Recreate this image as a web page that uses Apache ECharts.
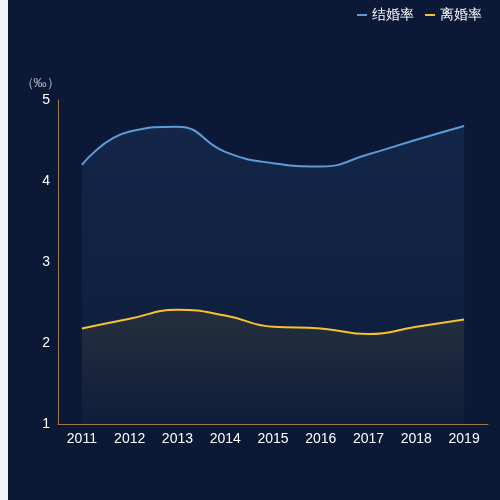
<!DOCTYPE html>
<html>
<head>
<meta charset="utf-8">
<script src="https://cdn.jsdelivr.net/npm/echarts@6/dist/echarts.min.js"></script>
<style>
html,body{margin:0;padding:0;background:#f2f3f8;width:500px;height:500px;overflow:hidden;}
#main{position:absolute;left:8px;top:0;width:492px;height:500px;background:#0b1937;}
</style>
</head>
<body>
<div id="main"></div>
<script>
const years = ['2011','2012','2013','2014','2015','2016','2017','2018','2019'];
const marriageRate = [4.20, 4.61, 4.67, 4.36, 4.22, 4.18, 4.33, 4.51, 4.68];
const divorceRate = [2.18, 2.30, 2.41, 2.34, 2.20, 2.18, 2.11, 2.20, 2.29];
const seriesNames = ['结婚率', '离婚率'];
const unitName = '（‰）';

const chart = echarts.init(document.getElementById('main'));
const axisColor = '#9f7b4c';
chart.setOption({
  backgroundColor: '#0b1937',
  legend: {
    top: 3,
    right: 13,
    icon: 'rect',
    itemWidth: 10,
    itemHeight: 2,
    itemGap: 11,
    textStyle: { color: '#ffffff', fontSize: 14 },
    data: seriesNames
  },
  grid: { left: 50, right: 12, top: 100, bottom: 76 },
  xAxis: {
    type: 'category',
    data: years,
    boundaryGap: true,
    axisLine: { show: true, lineStyle: { color: axisColor } },
    axisTick: { show: false },
    axisLabel: { color: '#ffffff', fontSize: 14, margin: 8 },
    splitLine: { show: false }
  },
  yAxis: {
    type: 'value',
    min: 1,
    max: 5,
    interval: 1,
    name: unitName,
    nameGap: 10,
    nameTextStyle: { color: '#b4b8c4', fontSize: 13, padding: [0, 36, 0, 0] },
    axisLine: { show: true, lineStyle: { color: axisColor } },
    axisTick: { show: false },
    axisLabel: { color: '#ffffff', fontSize: 14, margin: 8 },
    splitLine: { show: false }
  },
  series: [
    {
      name: seriesNames[0],
      type: 'line',
      smooth: true,
      symbol: 'none',
      data: marriageRate,
      lineStyle: { color: '#5e9ad6', width: 2 },
      itemStyle: { color: '#5e9ad6' },
      areaStyle: {
        color: new echarts.graphic.LinearGradient(0, 0, 0, 1, [
          { offset: 0, color: 'rgba(94,154,214,0.15)' },
          { offset: 1, color: 'rgba(94,154,214,0.03)' }
        ])
      }
    },
    {
      name: seriesNames[1],
      type: 'line',
      smooth: true,
      symbol: 'none',
      data: divorceRate,
      lineStyle: { color: '#f7c22e', width: 2 },
      itemStyle: { color: '#f7c22e' },
      areaStyle: {
        color: new echarts.graphic.LinearGradient(0, 0, 0, 1, [
          { offset: 0, color: 'rgba(247,194,46,0.13)' },
          { offset: 1, color: 'rgba(247,194,46,0.01)' }
        ])
      }
    }
  ]
});
</script>
</body>
</html>
